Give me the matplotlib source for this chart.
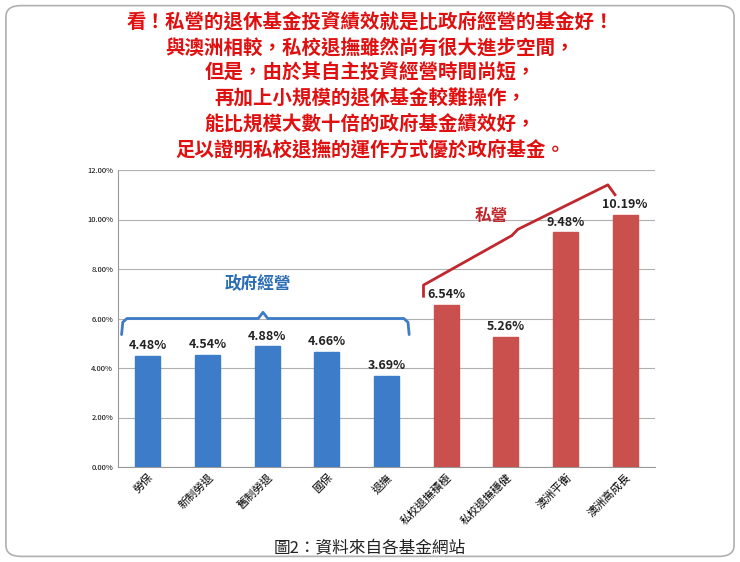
import matplotlib
matplotlib.use("Agg")
import matplotlib.pyplot as plt
import numpy as np
from matplotlib.patches import FancyBboxPatch

plt.rcParams['font.family'] = ['Noto Sans CJK TC', 'DejaVu Sans']

categories = ["勞保", "新制勞退", "舊制勞退", "國保", "退撫", "私校退撫積極", "私校退撫穩健", "澳洲平衡", "澳洲高成長"]
values = [4.48, 4.54, 4.88, 4.66, 3.69, 6.54, 5.26, 9.48, 10.19]
colors = ["#3d7cc9"] * 5 + ["#c9504d"] * 4
title_lines = ["看！私營的退休基金投資績效就是比政府經營的基金好！",
               "與澳洲相較，私校退撫雖然尚有很大進步空間，",
               "但是，由於其自主投資經營時間尚短，",
               "再加上小規模的退休基金較難操作，",
               "能比規模大數十倍的政府基金績效好，",
               "足以證明私校退撫的運作方式優於政府基金。"]

fig = plt.figure(figsize=(7.4, 5.62), dpi=100)
fig.patches.append(FancyBboxPatch((0.008, 0.01), 0.984, 0.98, boxstyle="round,pad=0,rounding_size=0.02",
                                  transform=fig.transFigure, fc="white", ec="#b0b0b0", lw=1.2, zorder=-10))
for i, t in enumerate(title_lines):
    fig.text(0.5, 1 - (22 + i * 25.5) / 562, t, ha="center", va="center", color="#e01010",
             fontsize=14, fontweight="bold")
fig.text(0.5, 1 - 548 / 562, "圖2：資料來自各基金網站", ha="center", va="center", fontsize=12, color="#222")

ax = fig.add_axes([118 / 740, 95 / 562, 537 / 740, 297 / 562])
ax.set_zorder(5)
ax.patch.set_alpha(0)
x = np.arange(len(values))
ax.bar(x, values, width=0.42, color=colors, edgecolor=[c for c in colors], zorder=3)
for xi, v in zip(x, values):
    ax.text(xi, v + 0.15, f"{v:.2f}%", ha="center", va="bottom", fontsize=9, fontweight="bold", color="#222")
ax.set_ylim(0, 12)
ax.set_xlim(-0.5, len(values) - 0.5)
ax.set_yticks(np.arange(0, 12.01, 2))
ax.set_yticklabels([f"{t:.2f}%" for t in np.arange(0, 12.01, 2)], fontsize=5.5)
ax.set_xticks(x)
ax.set_xticklabels(categories, rotation=45, ha="right", rotation_mode="anchor", fontsize=8)
ax.yaxis.grid(True, color="#b0b0b0", lw=0.8, zorder=0)
ax.tick_params(length=0)
for s in ["top", "right"]:
    ax.spines[s].set_visible(False)
ax.spines["left"].set_color("#999")
ax.spines["bottom"].set_color("#999")

bx = [-0.44, -0.42, -0.35, 1.85, 1.93, 2.01, 4.29, 4.36, 4.38]
by = [5.35, 5.85, 6.0, 6.0, 6.25, 6.0, 6.0, 5.85, 5.35]
ax.plot(bx, by, color="#3d7cc9", lw=2, clip_on=False, solid_capstyle="round")
ax.text(1.85, 7.4, "政府經營", ha="center", va="center", color="#2a6db5", fontsize=12, fontweight="bold")

px = [4.62, 4.62, 6.1, 6.2, 7.71, 7.83]
py = [6.9, 7.35, 9.35, 9.6, 11.4, 11.0]
ax.plot(px, py, color="#c0282d", lw=2, clip_on=False)
ax.text(5.75, 10.15, "私營", ha="center", va="center", color="#c0282d", fontsize=12, fontweight="bold")

fig.savefig("out.png", dpi=100)
